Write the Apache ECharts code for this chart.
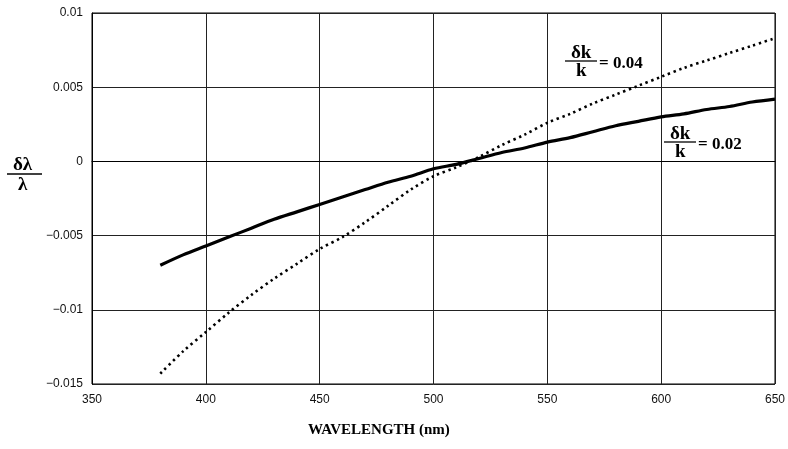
<!DOCTYPE html>
<html>
<head>
<meta charset="utf-8">
<script src="https://cdn.jsdelivr.net/npm/echarts@6/dist/echarts.min.js"></script>
<style>
html,body{margin:0;padding:0;background:#fff;}
#chart{width:788px;height:449px;}
</style>
</head>
<body>
<div id="chart"></div>
<script>
// Wavelength (nm)
const wavelengths = [380,390,400,410,420,430,440,450,460,470,480,490,500,510,520,530,540,550,560,570,580,590,600,610,620,630,640,650];
// δλ/λ for δk/k = 0.02 (solid)
const series002 = [-0.0070,-0.0063,-0.0057,-0.0051,-0.0045,-0.0039,-0.0034,-0.0029,-0.0024,-0.0019,-0.0014,-0.0010,-0.0005,-0.0002,0.0002,0.0006,0.0009,0.0013,0.0016,0.0020,0.0024,0.0027,0.0030,0.0032,0.0035,0.0037,0.0040,0.0042];
// δλ/λ for δk/k = 0.04 (dotted)
const series004 = [-0.0143,-0.0128,-0.0115,-0.0102,-0.0090,-0.0079,-0.0069,-0.0059,-0.0051,-0.0041,-0.0030,-0.0019,-0.0010,-0.0004,0.0003,0.0011,0.0018,0.0026,0.0032,0.0039,0.0045,0.0051,0.0057,0.0063,0.0068,0.0073,0.0078,0.0083];
const xAxisRange = {min:350, max:650, interval:50};
const yAxisRange = {min:-0.015, max:0.01, interval:0.005};
const xTitle = 'WAVELENGTH (nm)';
const labelA = '= 0.04';
const labelB = '= 0.02';

const chart = echarts.init(document.getElementById('chart'), null, {renderer:'canvas'});
const serif = '"Liberation Serif", "Times New Roman", serif';
const tickFont = {fontFamily:'"Liberation Sans", Arial, sans-serif', fontSize:12, color:'#111'};

function frac(x, y, top, bottom, rightText){
  const els = [
    {type:'text', left:x, top:y-17, style:{text:top, font:'bold 19px ' + serif, fill:'#000'}},
    {type:'line', shape:{x1:x-6, y1:y, x2:x+26, y2:y}, style:{stroke:'#000', lineWidth:1.3}},
    {type:'text', left:x+5, top:y+1, style:{text:bottom, font:'bold 19px ' + serif, fill:'#000'}}
  ];
  if(rightText){
    els.push({type:'text', left:x+28, top:y-6, style:{text:rightText, font:'bold 17px ' + serif, fill:'#000'}});
  }
  return els;
}

const option = {
  backgroundColor:'#fff',
  animation:false,
  grid:{left:92, right:10, top:13, bottom:65, show:true, borderColor:'#000', borderWidth:1},
  xAxis:{
    type:'value', min:xAxisRange.min, max:xAxisRange.max, interval:xAxisRange.interval,
    axisLine:{show:true, lineStyle:{color:'#000'}},
    axisTick:{show:false},
    axisLabel:Object.assign({margin:10}, tickFont),
    splitLine:{show:true, lineStyle:{color:'#222', width:1}}
  },
  yAxis:{
    type:'value', min:yAxisRange.min, max:yAxisRange.max, interval:yAxisRange.interval,
    axisLine:{show:true, lineStyle:{color:'#000'}},
    axisTick:{show:false},
    axisLabel:Object.assign({margin:9, formatter:v => String(+v.toFixed(3)).replace('-', '\u2212')}, tickFont),
    splitLine:{show:true, lineStyle:{color:'#222', width:1}}
  },
  series:[
    {type:'line', data:wavelengths.map((w,i)=>[w, series002[i]]), showSymbol:false, smooth:0.3,
     lineStyle:{color:'#000', width:3.2}},
    {type:'line', data:wavelengths.map((w,i)=>[w, series004[i]]), showSymbol:false, smooth:0.3,
     lineStyle:{color:'#000', width:2.6, type:[2.4, 3.6]}}
  ],
  graphic:[
    ...frac(571, 61, 'δk', 'k', labelA),
    ...frac(670, 142, 'δk', 'k', labelB),
    {type:'text', left:13, top:156, style:{text:'δλ', font:'bold 19px ' + serif, fill:'#000'}},
    {type:'line', shape:{x1:7, y1:174, x2:42, y2:174}, style:{stroke:'#000', lineWidth:1.3}},
    {type:'text', left:18, top:176, style:{text:'λ', font:'bold 19px ' + serif, fill:'#000'}},
    {type:'text', left:308, top:423, style:{text:xTitle, font:'bold 15px ' + serif, fill:'#000'}}
  ]
};
chart.setOption(option);
</script>
</body>
</html>
